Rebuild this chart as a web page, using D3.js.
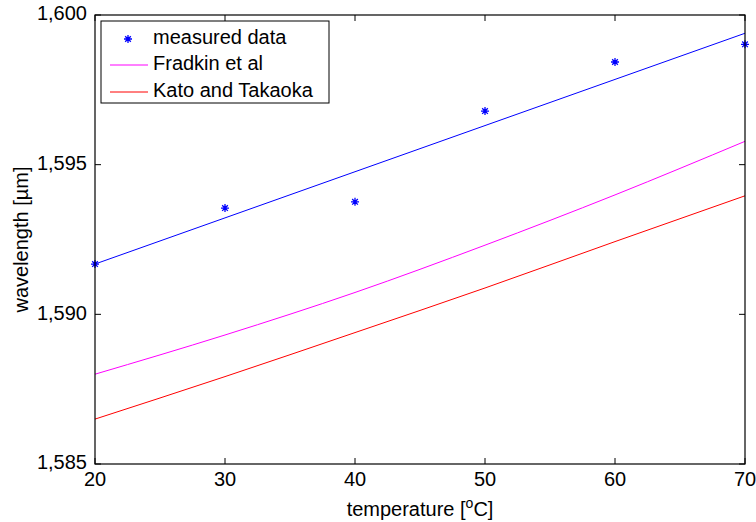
<!DOCTYPE html>
<html>
<head>
<meta charset="utf-8">
<script src="https://cdn.jsdelivr.net/npm/d3@7"></script>
<style>
  body { margin: 0; background: #fff; }
  text { font-family: Arial, "Liberation Sans", sans-serif; fill: #000; }
</style>
</head>
<body>
<svg id="chart" width="756" height="522"></svg>
<script>
// temperatures (deg C) for measured points and model curves
var temps = [20, 30, 40, 50, 60, 70];
// measured Bragg wavelength (um)
var measured = [1.59168, 1.59355, 1.59376, 1.59679, 1.59843, 1.59902];
// linear fit through measured data (end points)
var fitTemps = [20, 70];
var fitValues = [1.59168, 1.59939];
// model curves
var fradkin = [1.58800, 1.58931, 1.59073, 1.59231, 1.59399, 1.59578];
var kato = [1.58650, 1.58792, 1.58939, 1.59088, 1.59243, 1.59396];

var xTicks = [20, 30, 40, 50, 60, 70];
var yTicks = [1.585, 1.590, 1.595, 1.600];
var legendLabels = ["measured data", "Fradkin et al", "Kato and Takaoka"];

var svg = d3.select("#chart");
// plot area (note: "top" clashes with window.top, so use other names)
var pLeft = 95, pRight = 745, pTop = 15, pBottom = 464;
var tickLen = 6;
var fontSize = 20;

var x = d3.scaleLinear().domain([20, 70]).range([pLeft, pRight]);
var y = d3.scaleLinear().domain([1.585, 1.600]).range([pBottom, pTop]);

var fmt = function(v) { return d3.format(".3f")(v).replace(".", ","); };

// clip for data lines
svg.append("clipPath").attr("id", "clip")
	.append("rect").attr("x", pLeft).attr("y", pTop)
	.attr("width", pRight - pLeft).attr("height", pBottom - pTop);

var plot = svg.append("g").attr("clip-path", "url(#clip)");

var line = d3.line()
	.x(function(d) { return x(d[0]); })
	.y(function(d) { return y(d[1]); });

var smooth = d3.line()
	.x(function(d) { return x(d[0]); })
	.y(function(d) { return y(d[1]); })
	.curve(d3.curveMonotoneX);

plot.append("path")
	.attr("d", line(d3.zip(fitTemps, fitValues)))
	.attr("fill", "none").attr("stroke", "#0000ff").attr("stroke-width", 1);

plot.append("path")
	.attr("d", smooth(d3.zip(temps, fradkin)))
	.attr("fill", "none").attr("stroke", "#ff00ff").attr("stroke-width", 1);

plot.append("path")
	.attr("d", smooth(d3.zip(temps, kato)))
	.attr("fill", "none").attr("stroke", "#ff0000").attr("stroke-width", 1);

// asterisk marker like matlab '*'
function asterisk(r) {
	var d = r * 0.7071;
	return "M" + (-r) + ",0L" + r + ",0" +
		"M0," + (-r) + "L0," + r +
		"M" + (-d) + "," + (-d) + "L" + d + "," + d +
		"M" + (-d) + "," + d + "L" + d + "," + (-d);
}

svg.append("g").selectAll("path.pt")
	.data(d3.zip(temps, measured))
	.enter()
	.append("path")
	.classed("pt", true)
	.attr("transform", function(d) { return "translate(" + x(d[0]) + "," + y(d[1]) + ")"; })
	.attr("d", asterisk(4))
	.attr("fill", "none").attr("stroke", "#0000ff").attr("stroke-width", 1.3);

// axes box
var axes = svg.append("g");
axes.append("rect")
	.attr("x", pLeft).attr("y", pTop)
	.attr("width", pRight - pLeft).attr("height", pBottom - pTop)
	.attr("fill", "none").attr("stroke", "#000").attr("stroke-width", 1.2);

// x ticks (bottom and top, pointing inward)
xTicks.forEach(function(t) {
	axes.append("line").attr("x1", x(t)).attr("x2", x(t))
		.attr("y1", pBottom).attr("y2", pBottom - tickLen).attr("stroke", "#000");
	axes.append("line").attr("x1", x(t)).attr("x2", x(t))
		.attr("y1", pTop).attr("y2", pTop + tickLen).attr("stroke", "#000");
	axes.append("text").attr("x", x(t)).attr("y", pBottom + 17)
		.attr("text-anchor", "middle").attr("dominant-baseline", "middle")
		.style("font-size", fontSize + "px").text(t);
});

// y ticks (left and right)
yTicks.forEach(function(t) {
	axes.append("line").attr("x1", pLeft).attr("x2", pLeft + tickLen)
		.attr("y1", y(t)).attr("y2", y(t)).attr("stroke", "#000");
	axes.append("line").attr("x1", pRight).attr("x2", pRight - tickLen)
		.attr("y1", y(t)).attr("y2", y(t)).attr("stroke", "#000");
	axes.append("text").attr("x", pLeft - 8).attr("y", y(t))
		.attr("text-anchor", "end").attr("dominant-baseline", "middle")
		.style("font-size", fontSize + "px").text(fmt(t));
});

// axis labels
var xl = svg.append("text").attr("x", (pLeft + pRight) / 2).attr("y", pBottom + 52)
	.attr("text-anchor", "middle").style("font-size", fontSize + "px");
xl.append("tspan").text("temperature [");
xl.append("tspan").attr("dy", -8).style("font-size", "14px").text("o");
xl.append("tspan").attr("dy", 8).text("C]");

svg.append("text")
	.attr("transform", "translate(28," + ((pTop + pBottom) / 2) + ") rotate(-90)")
	.attr("text-anchor", "middle")
	.style("font-size", fontSize + "px")
	.text("wavelength [\u00b5m]");

// legend
var lg = svg.append("g");
lg.append("rect").attr("x", 101).attr("y", 21).attr("width", 228).attr("height", 82)
	.attr("fill", "#fff").attr("stroke", "#000").attr("stroke-width", 1);

var rowY = [39, 65, 92];
lg.append("path").attr("transform", "translate(128," + rowY[0] + ")")
	.attr("d", asterisk(4)).attr("fill", "none").attr("stroke", "#0000ff").attr("stroke-width", 1.3);
lg.append("line").attr("x1", 110).attr("x2", 148).attr("y1", rowY[1]).attr("y2", rowY[1])
	.attr("stroke", "#ff00ff");
lg.append("line").attr("x1", 110).attr("x2", 148).attr("y1", rowY[2]).attr("y2", rowY[2])
	.attr("stroke", "#ff0000");

legendLabels.forEach(function(l, i) {
	lg.append("text").attr("x", 153).attr("y", rowY[i])
		.attr("dominant-baseline", "middle")
		.style("font-size", fontSize + "px").text(l);
});
</script>
</body>
</html>
